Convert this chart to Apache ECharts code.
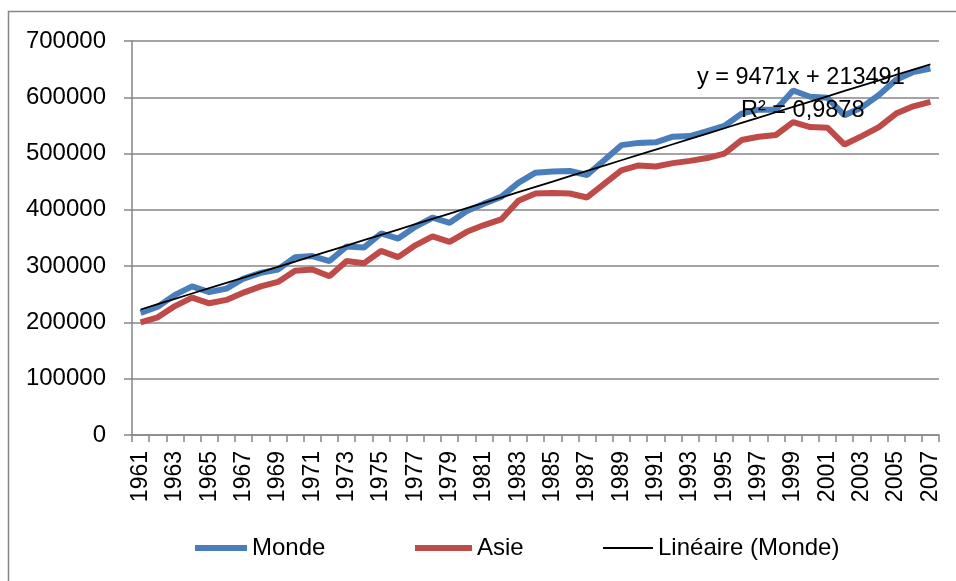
<!DOCTYPE html>
<html>
<head>
<meta charset="utf-8">
<script src="https://cdn.jsdelivr.net/npm/echarts@6/dist/echarts.min.js"></script>
<style>
  html, body { margin: 0; padding: 0; background: #fff; }
  #chart { width: 956px; height: 581px; }
</style>
</head>
<body>
<div id="chart"></div>
<script>
var years = ['1961','1962','1963','1964','1965','1966','1967','1968','1969','1970',
  '1971','1972','1973','1974','1975','1976','1977','1978','1979','1980',
  '1981','1982','1983','1984','1985','1986','1987','1988','1989','1990',
  '1991','1992','1993','1994','1995','1996','1997','1998','1999','2000',
  '2001','2002','2003','2004','2005','2006','2007'];

var monde = [217000, 228000, 249000, 264000, 254000, 260000, 278000, 288000, 294000, 316000,
  318000, 309000, 335000, 333000, 358000, 349000, 370000, 386000, 377000, 398000,
  411000, 423000, 448000, 466000, 468000, 469000, 462000, 488000, 515000, 519000,
  520000, 530000, 531000, 540000, 549000, 571000, 578000, 578000, 612000, 601000,
  599000, 568000, 582000, 604000, 631000, 645000, 651000];

var asie = [200000, 209000, 229000, 244000, 234000, 240000, 253000, 264000, 272000, 292000,
  294000, 282000, 309000, 305000, 327000, 316000, 337000, 353000, 343000, 361000,
  373000, 383000, 416000, 429000, 430000, 429000, 422000, 446000, 470000, 479000,
  477000, 483000, 487000, 492000, 500000, 524000, 530000, 533000, 556000, 547000,
  546000, 516000, 531000, 547000, 571000, 584000, 592000];

// droite de tendance affichée sur le graphique : y = 9471x + 213491
var trendSlope = 9471;
var trendIntercept = 213491;
var trendLabel = 'y = 9471x + 213491';
var r2Label = 'R² = 0,9878';

var trend = years.map(function (y, i) {
  return trendSlope * (i + 1) + trendIntercept;
});

var font = 'Liberation Sans';
var gray = '#868686';

var myChart = echarts.init(document.getElementById('chart'));

var legendText = { fontSize: 24, fontFamily: font, color: '#000' };

var option = {
  animation: false,
  backgroundColor: '#fff',
  textStyle: { fontFamily: font, color: '#000' },
  grid: { left: 132, right: 17, top: 41, bottom: 146, containLabel: false },
  legend: [
    { left: 190, top: 531, itemWidth: 52, itemHeight: 6, icon: 'rect',
      data: ['Monde'], textStyle: legendText },
    { left: 410, top: 531, itemWidth: 57, itemHeight: 6, icon: 'rect',
      data: ['Asie'], textStyle: legendText },
    { left: 598, top: 531, itemWidth: 50, itemHeight: 2, icon: 'rect',
      data: ['Linéaire (Monde)'], textStyle: legendText }
  ],
  xAxis: {
    type: 'category',
    data: years,
    boundaryGap: true,
    axisLine: { lineStyle: { color: gray, width: 1.5 } },
    axisTick: { show: true, interval: 0, length: 7, lineStyle: { color: gray, width: 1.5 } },
    axisLabel: { interval: 1, rotate: 90, margin: 16, fontSize: 23, fontFamily: font, color: '#000' },
    splitLine: { show: false }
  },
  yAxis: {
    type: 'value',
    min: 0,
    max: 700000,
    interval: 100000,
    axisLine: { show: true, lineStyle: { color: gray, width: 1.5 } },
    axisTick: { show: true, length: 8, lineStyle: { color: gray, width: 1.5 } },
    axisLabel: { margin: 26, fontSize: 24, fontFamily: font, color: '#000',
      formatter: function (v) { return String(v); } },
    splitLine: { lineStyle: { color: gray, width: 1.5 } }
  },
  series: [
    { name: 'Monde', type: 'line', data: monde, showSymbol: false, symbol: 'none',
      itemStyle: { color: '#4A7EBB' }, lineStyle: { color: '#4A7EBB', width: 6 }, z: 2 },
    { name: 'Asie', type: 'line', data: asie, showSymbol: false, symbol: 'none',
      itemStyle: { color: '#BE4B48' }, lineStyle: { color: '#BE4B48', width: 6 }, z: 2 },
    { name: 'Linéaire (Monde)', type: 'line', data: trend, showSymbol: false, symbol: 'none',
      itemStyle: { color: '#000' }, lineStyle: { color: '#000', width: 1.8 }, z: 3 }
  ],
  graphic: [
    { type: 'rect', silent: true, z: -10,
      shape: { x: 8.5, y: 11.5, width: 1200, height: 1200 },
      style: { fill: 'none', stroke: gray, lineWidth: 1.5 } },
    { type: 'text', z: 100, left: 697, top: 66,
      style: { text: trendLabel, font: '23.5px "Liberation Sans"', fill: '#000' } },
    { type: 'text', z: 100, left: 741, top: 99,
      style: { text: r2Label, font: '23.5px "Liberation Sans"', fill: '#000' } }
  ]
};

myChart.setOption(option);
</script>
</body>
</html>
